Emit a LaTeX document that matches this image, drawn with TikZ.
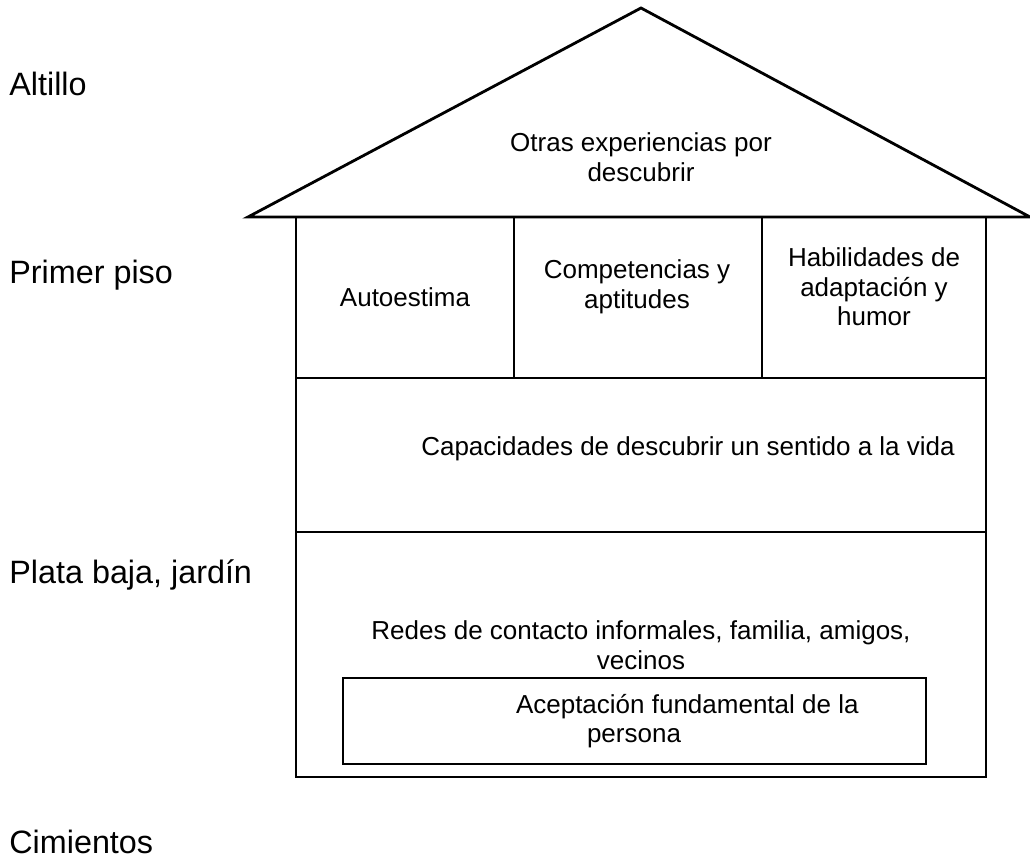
\documentclass[tikz,border=0pt]{standalone}
\usepackage{fontspec}
\setmainfont{Liberation Sans}
\tikzset{
  floorlabel/.style={anchor=west,inner sep=0pt,font=\fontsize{18.4}{22}\selectfont},
  roomtext/.style={align=center,inner sep=0pt,font=\fontsize{14.8}{16.8}\selectfont},
}
\begin{document}
\begin{tikzpicture}[x=0.02cm,y=-0.02cm,line width=1.6pt]
			\useasboundingbox (0,0) rectangle (1030,861);
			% casa
			\coordinate (apex) at (641,8);
			\coordinate (eaveL) at (248,217);
			\coordinate (eaveR) at (1030,217);
			\draw (eaveL) -- (apex) -- (eaveR) -- cycle;
			\draw (296,217) rectangle (986,378);
			\draw (296,378) rectangle (986,532);
			\draw (296,532) rectangle (986,777);
			\draw (514,217) -- (514,378);
			\draw (762,217) -- (762,378);
			\draw (343,678) rectangle (926,764);
			
			% pisos
			\node[floorlabel] (altillo) at (8,84) {Altillo};
			\node[floorlabel] (primer) at (8,275) {Primer piso};
			\node[floorlabel] (baja) at (8,575) {Plata baja, jardín};
			\node[floorlabel] (cimientos) at (8,842) {Cimientos};
			
			% contenidos
			\node[roomtext] (otras) at (641,157) {Otras experiencias por\\descubrir};
			\node[roomtext] (auto) at (405,297) {Autoestima};
			\node[roomtext] (comp) at (637,287) {Competencias y\\aptitudes};
			\node[roomtext] (habil) at (874,287) {Habilidades de\\adaptación y\\humor};
			\node[roomtext] (capac) at (688,449) {Capacidades de descubrir un sentido a la vida};
			\node[roomtext] (redes) at (641,645) {Redes de contacto informales, familia, amigos,\\vecinos};
			\node[roomtext] (acept) at (634,721) {\hspace*{4.1em}Aceptación fundamental de la\\persona};
\end{tikzpicture}
\end{document}
